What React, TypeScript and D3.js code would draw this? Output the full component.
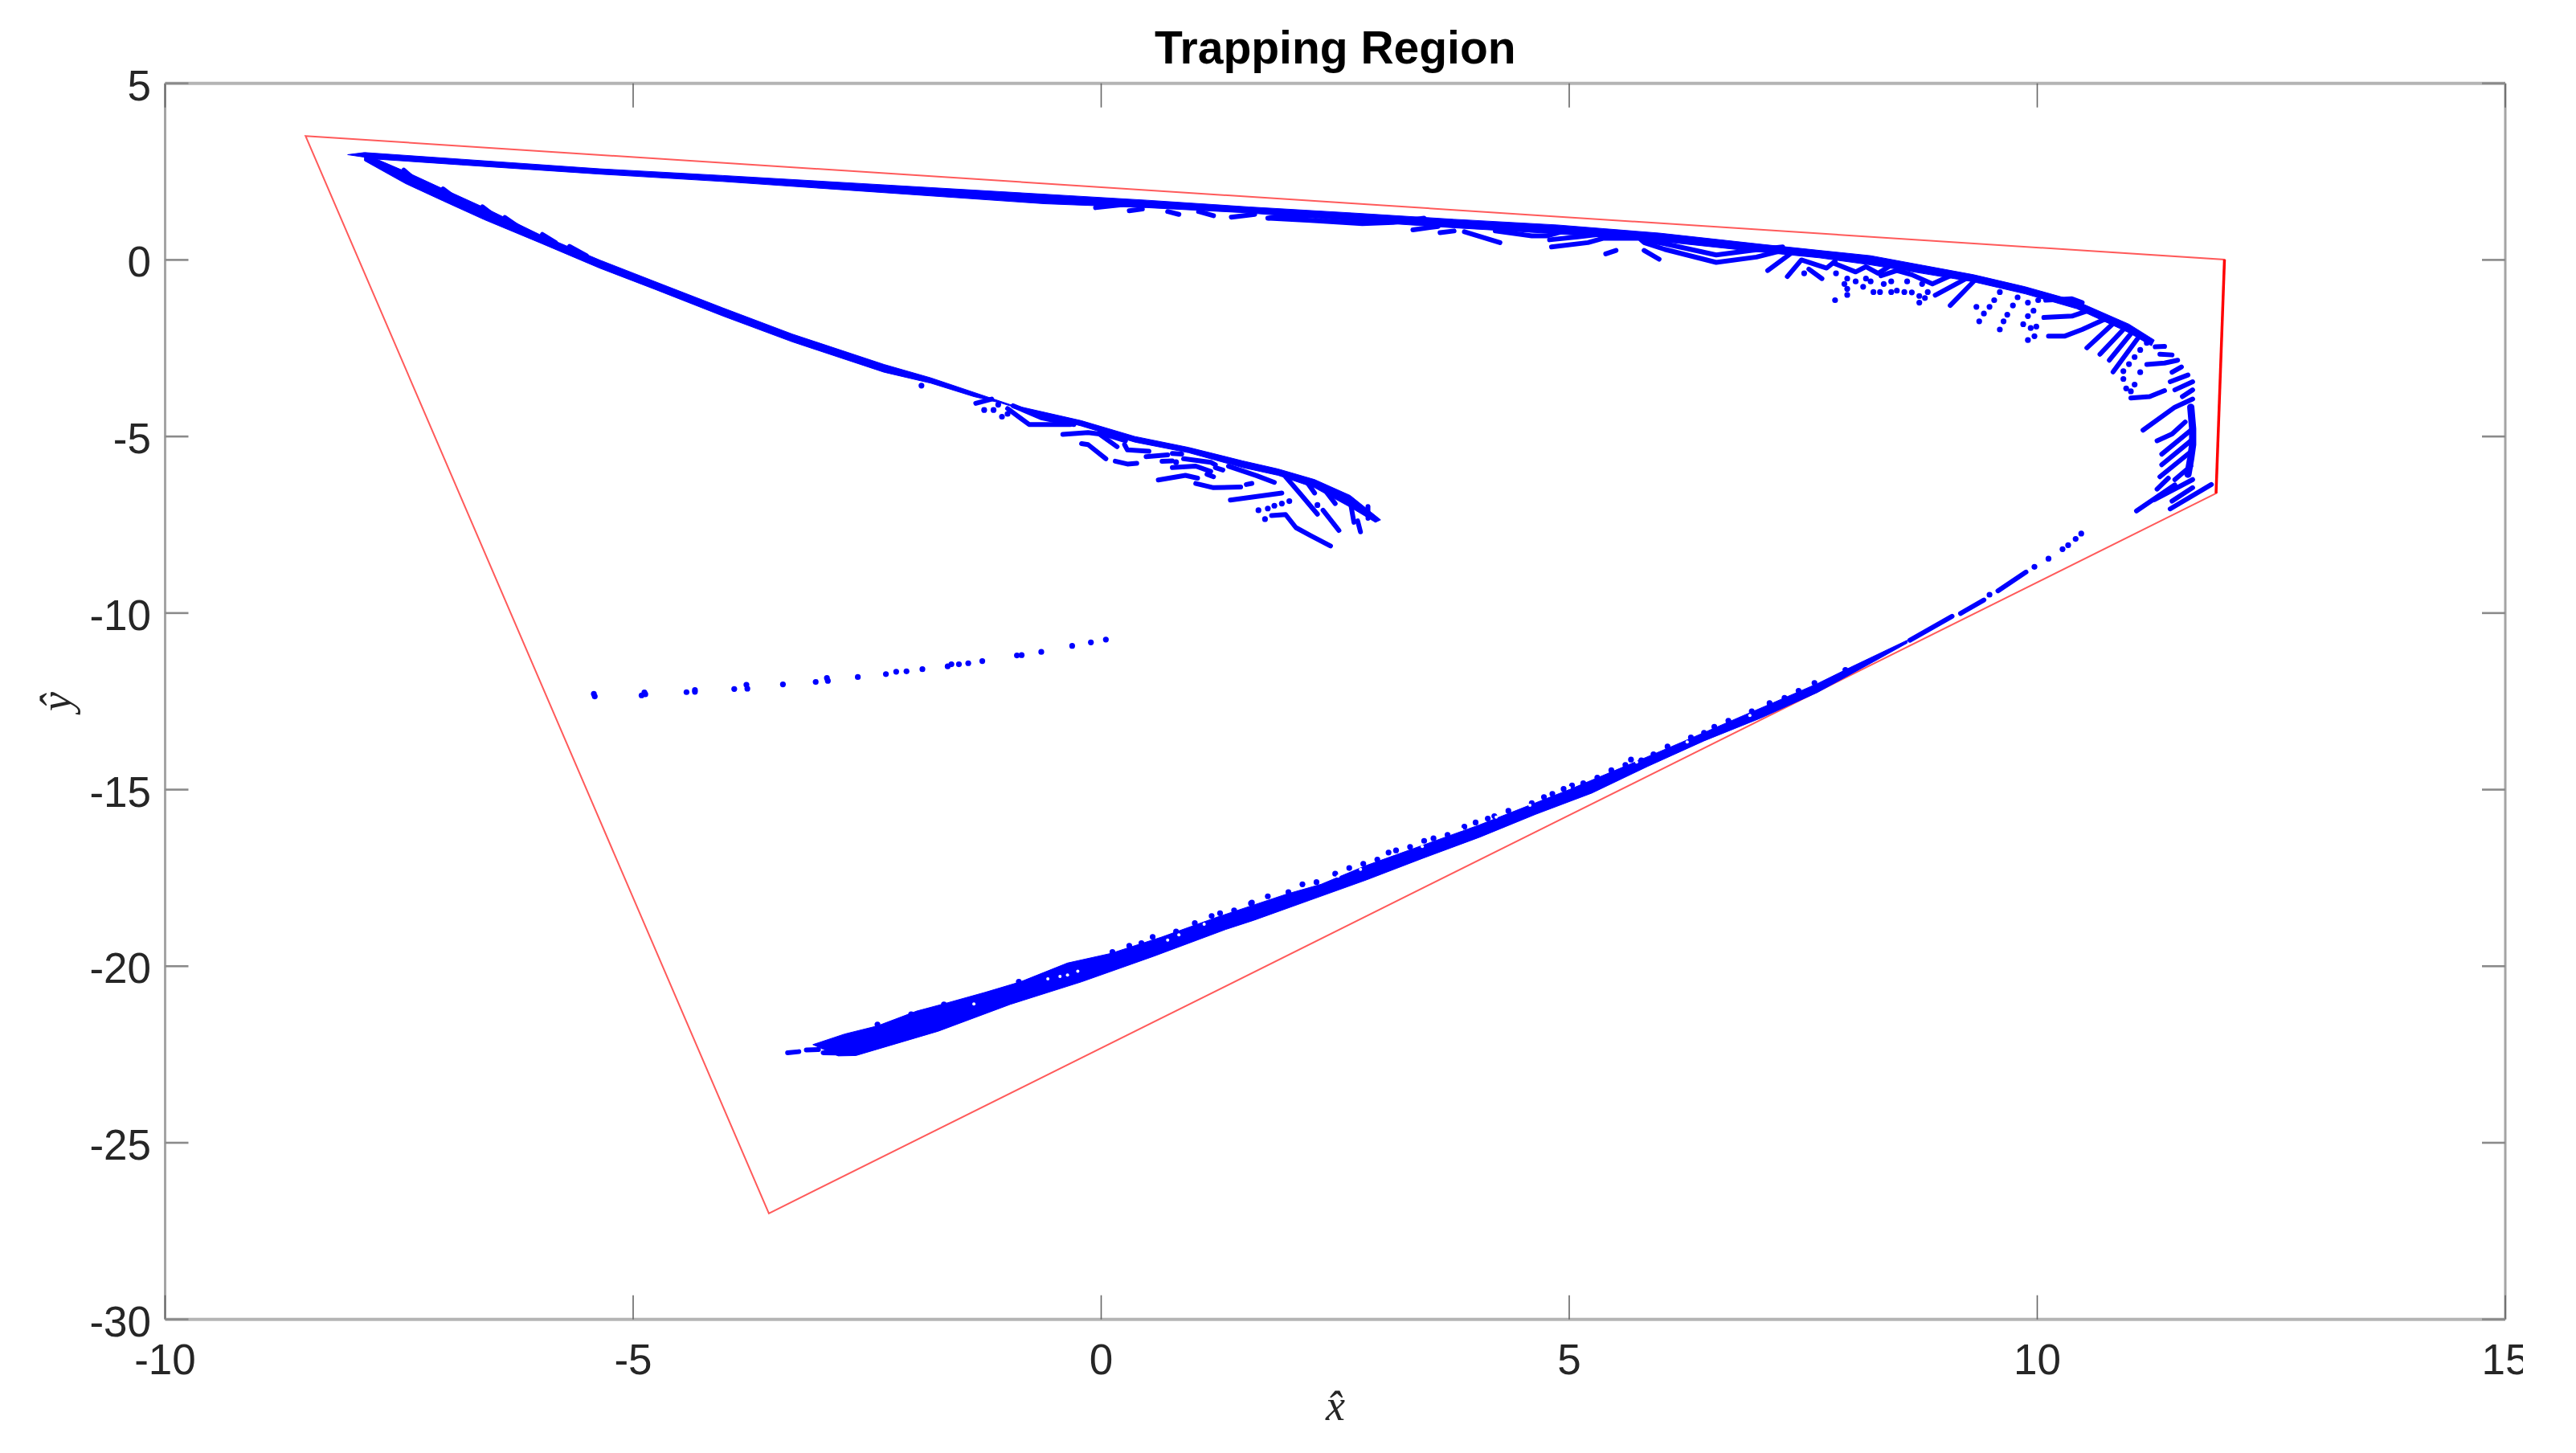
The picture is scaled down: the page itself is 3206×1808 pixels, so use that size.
import React from "react";
import * as d3 from "d3";

type P = [number, number];

const titleText = "Trapping Region";
const xTicks = [-10, -5, 0, 5, 10, 15];
const yTicks = [5, 0, -5, -10, -15, -20, -25, -30];

const trappingRegion: P[] = [[-8.5, 3.51], [12.0, 0.01], [11.91, -6.61], [-3.55, -27.0]];
const brightEdge: P[] = [[12.0, 0.01], [11.91, -6.61]];

// dense bundles, outlined by their upper and lower edges
const topBandUpper: P[] = [[-8.05, 2.98], [-7.87, 3.04], [-6.83, 2.85], [-5.36, 2.58], [-4.04, 2.39], [-0.605, 1.86], [0.49, 1.69], [1.58, 1.5], [2.68, 1.33], [3.77, 1.15], [4.87, 0.99], [5.96, 0.76], [7.06, 0.44], [7.67, 0.27], [8.22, 0.12], [8.77, -0.15], [9.32, -0.42], [9.87, -0.76], [10.42, -1.17], [10.98, -1.82], [11.25, -2.27]];
const topBandLower: P[] = [[-7.72, 2.85], [-6.83, 2.69], [-5.36, 2.43], [-4.04, 2.22], [-0.605, 1.59], [0.49, 1.48], [1.58, 1.33], [2.68, 1.1], [3.77, 0.91], [4.87, 0.74], [5.96, 0.53], [7.06, 0.22], [7.67, 0.06], [8.22, -0.14], [8.77, -0.38], [9.32, -0.62], [9.87, -0.96], [10.42, -1.38], [10.98, -2.06], [11.22, -2.43]];

const midBandUpper: P[] = [[-7.87, 3.0], [-7.43, 2.5], [-7.03, 2.01], [-6.59, 1.48], [-6.0, 0.72], [-5.36, 0.0], [-4.77, -0.61], [-4.04, -1.36], [-3.3, -2.1], [-2.32, -2.96], [-1.82, -3.34], [-0.98, -4.09], [-0.215, -4.55], [0.36, -5.0], [0.935, -5.31], [1.51, -5.69], [1.89, -5.92], [2.28, -6.22], [2.66, -6.67], [2.985, -7.36]];
const midBandLower: P[] = [[-7.87, 2.81], [-7.43, 2.16], [-7.03, 1.67], [-6.59, 1.14], [-6.0, 0.49], [-5.36, -0.23], [-4.77, -0.83], [-4.04, -1.59], [-3.3, -2.32], [-2.32, -3.18], [-1.82, -3.49], [-1.36, -3.87], [-1.06, -4.06], [-0.6, -4.44], [-0.215, -4.7], [0.36, -5.16], [0.935, -5.46], [1.51, -5.88], [1.89, -6.1], [2.28, -6.45], [2.66, -7.0], [2.93, -7.43]];

const lowBandUpper: P[] = [[-3.08, -22.22], [-2.74, -21.92], [-2.39, -21.69], [-1.97, -21.27], [-1.66, -21.05], [-1.24, -20.74], [-0.86, -20.44], [-0.36, -19.91], [0.1, -19.64], [0.64, -19.18], [1.25, -18.6], [1.99, -17.95], [2.35, -17.68], [2.83, -17.15], [3.43, -16.58], [4.04, -16.0], [4.52, -15.5], [5.0, -15.0], [5.72, -14.2], [6.2, -13.66], [6.81, -12.96], [7.17, -12.55], [7.65, -12.0], [8.01, -11.53], [8.61, -10.77]];
const lowBandLower: P[] = [[-2.81, -22.54], [-2.62, -22.53], [-1.74, -21.84], [-0.97, -21.08], [-0.207, -20.44], [0.56, -19.72], [1.33, -18.96], [1.63, -18.7], [2.23, -18.13], [2.83, -17.56], [3.43, -16.95], [4.04, -16.35], [4.64, -15.7], [5.24, -15.1], [5.84, -14.34], [6.44, -13.62], [7.05, -12.97], [7.65, -12.25], [8.25, -11.38], [8.61, -10.85]];

// separate runs of closely spaced samples
const arcRuns: P[][] = [
  [[11.26, -2.46], [11.36, -2.45]], [[11.31, -2.67], [11.44, -2.69]],
  [[11.17, -2.96], [11.36, -2.92], [11.5, -2.84]], [[11.44, -3.18], [11.54, -3.03]],
  [[11.42, -3.45], [11.61, -3.26]], [[11.47, -3.68], [11.66, -3.45]], [[11.55, -3.87], [11.66, -3.68]],
  [[11.0, -3.91], [11.2, -3.87], [11.36, -3.7]],
  [[11.13, -4.82], [11.47, -4.17], [11.66, -3.94]], [[11.28, -5.12], [11.44, -4.93], [11.58, -4.59]],
  [[11.33, -5.5], [11.66, -4.78]], [[11.33, -5.8], [11.66, -5.08]], [[11.31, -6.14], [11.66, -5.39]],
  [[11.28, -6.49], [11.4, -6.18]], [[11.06, -7.11], [11.47, -6.37]], [[11.25, -6.79], [11.66, -6.22]],
  [[11.42, -7.05], [11.86, -6.36]], [[11.44, -6.83], [11.66, -6.45]], [[11.47, -6.22], [11.64, -5.84]],
  [[10.53, -2.49], [10.8, -1.83]], [[10.67, -2.67], [10.92, -1.97]], [[10.77, -2.84], [11.0, -2.09]],
  [[10.81, -3.17], [11.08, -2.2]], [[10.12, -2.16], [10.29, -2.16], [10.48, -1.97], [10.73, -1.67]],
  [[10.07, -1.63], [10.37, -1.59], [10.56, -1.42]], [[10.09, -1.14], [10.37, -1.1], [10.48, -1.21]],
  [[9.07, -1.29], [9.32, -0.61]], [[8.91, -1.0], [9.24, -0.53]],
  [[7.12, -0.3], [7.37, 0.19]], [[7.33, -0.47], [7.48, 0.0], [7.75, -0.23], [7.84, -0.04]],
  [[7.56, -0.26], [7.7, -0.53]], [[7.84, -0.11], [8.06, -0.34], [8.17, -0.19], [8.3, -0.38], [8.44, -0.15]],
  [[8.33, -0.45], [8.5, -0.3], [8.66, -0.42], [8.88, -0.68], [9.07, -0.45]],
  [[-0.06, 1.48], [0.22, 1.56]], [[0.3, 1.39], [0.44, 1.44]], [[0.71, 1.37], [0.83, 1.29]], [[1.04, 1.37], [1.2, 1.25]],
  [[1.39, 1.21], [1.64, 1.29]], [[1.78, 1.18], [1.97, 1.25], [2.24, 1.25]],
  [[1.8, 1.18], [2.24, 1.12], [2.79, 1.03], [3.12, 1.06], [3.45, 1.18]],
  [[3.33, 0.85], [3.6, 0.95]], [[3.62, 0.77], [3.77, 0.82]], [[3.88, 0.8], [4.26, 0.49]],
  [[4.21, 0.82], [4.6, 0.68], [4.76, 0.68], [4.92, 0.8]], [[4.79, 0.57], [5.09, 0.65], [5.31, 0.72]],
  [[4.81, 0.37], [5.2, 0.49], [5.36, 0.61], [5.75, 0.61], [5.8, 0.49], [6.02, 0.3], [6.57, -0.07], [7.0, 0.08], [7.28, 0.27]],
  [[5.8, 0.57], [6.02, 0.46], [6.57, 0.14], [6.95, 0.27], [7.28, 0.37]],
  [[5.39, 0.17], [5.5, 0.27]], [[5.8, 0.27], [5.96, 0.02]],
];
const arcBlob: P[] = [[11.64, -4.17], [11.66, -4.78], [11.66, -5.23], [11.64, -5.61], [11.61, -6.07]];
const arcDots: P[] = [[10.92, -3.37], [10.95, -3.64], [11.0, -3.72], [11.04, -3.53], [11.1, -3.18], [9.38, -1.74], [9.43, -1.52], [9.49, -1.33], [9.54, -1.14], [9.6, -0.91], [9.65, -0.72], [9.6, -1.97], [9.64, -1.74], [9.68, -1.55], [9.74, -1.29], [9.79, -1.06], [9.85, -1.82], [9.9, -1.59], [9.96, -1.44], [10.01, -1.14], [9.9, -1.21], [9.9, -2.27], [9.97, -2.16], [9.93, -1.93], [9.99, -1.89], [9.35, -1.33], [10.92, -3.15], [10.98, -2.95], [11.04, -2.75], [11.1, -2.55], [11.17, -2.35], [7.51, -0.38], [7.84, -1.14], [7.97, -0.99], [7.97, -0.82], [7.94, -0.68], [7.97, -0.53], [7.85, -0.38], [8.06, -0.61], [8.14, -0.76], [8.17, -0.53], [8.25, -0.91], [8.32, -0.91], [8.36, -0.68], [8.44, -0.91], [8.5, -0.87], [8.58, -0.91], [8.66, -0.92], [8.74, -1.21], [8.74, -1.02], [8.8, -1.08], [8.83, -0.91], [8.44, -0.61], [8.61, -0.61], [8.77, -0.68], [8.22, -0.61]];

const midRuns: P[][] = [
  [[-7.45, 2.54], [-7.3, 2.2]], [[-7.03, 2.01], [-6.86, 1.67]], [[-6.61, 1.5], [-6.47, 1.22]], [[-6.37, 1.2], [-6.19, 0.87]], [[-5.97, 0.72], [-5.83, 0.49]], [[-5.68, 0.38], [-5.5, 0.12]],
  [[-1.34, -4.06], [-1.17, -3.94]], [[-1.0, -4.21], [-0.77, -4.66], [-0.33, -4.66]], [[-0.94, -4.13], [-0.64, -4.47], [-0.29, -4.66]],
  [[-0.41, -4.94], [-0.14, -4.89], [-0.02, -4.93], [0.17, -5.29]], [[-0.21, -5.2], [-0.14, -5.23], [0.05, -5.63]],
  [[0.15, -5.7], [0.28, -5.78], [0.38, -5.76]], [[-0.02, -4.89], [0.26, -5.12]], [[0.25, -5.23], [0.28, -5.38], [0.51, -5.42]],
  [[0.48, -5.57], [0.71, -5.52]], [[0.76, -5.48], [0.86, -5.5]], [[0.65, -5.7], [0.76, -5.69]],
  [[0.88, -5.63], [1.17, -5.73], [1.22, -5.8]], [[0.76, -5.88], [1.01, -5.84], [1.17, -5.99]],
  [[1.13, -6.07], [1.2, -6.14]], [[1.22, -5.88], [1.3, -5.95]], [[0.61, -6.23], [0.9, -6.1], [1.03, -6.18]],
  [[1.01, -6.33], [1.2, -6.45], [1.49, -6.43]], [[1.55, -6.36], [1.61, -6.33]], [[1.38, -6.8], [1.93, -6.6]],
  [[1.82, -7.24], [1.97, -7.21], [2.08, -7.58], [2.24, -7.81], [2.45, -8.1]], [[1.97, -6.14], [2.12, -6.6], [2.31, -7.2]],
  [[2.37, -7.09], [2.54, -7.66]], [[2.66, -6.83], [2.7, -7.43]], [[2.74, -7.39], [2.77, -7.7]],
  [[2.2, -6.3], [2.28, -6.6]], [[2.39, -6.52], [2.5, -6.9]], [[2.85, -6.98], [2.85, -7.32]], [[1.36, -5.84], [1.66, -6.11], [1.85, -6.3]],
];
const midDots: P[] = [[-1.25, -4.25], [-1.15, -4.25], [-1.06, -4.44], [-1.0, -4.36], [-1.1, -4.1], [-1.92, -3.56], [0.8, -5.73], [1.68, -7.09], [1.78, -7.04], [1.85, -6.96], [1.93, -6.9], [2.01, -6.83], [1.75, -7.34], [2.31, -6.94]];

const lowRuns: P[][] = [
  [[-3.35, -22.45], [-3.23, -22.42]], [[-3.15, -22.37], [-3.02, -22.36]], [[-2.97, -22.45], [-2.83, -22.46]],
  [[8.64, -10.77], [9.09, -10.09]], [[9.18, -10.01], [9.43, -9.63]], [[9.58, -9.37], [9.88, -8.84]],
];
const lowDots: P[] = [[9.49, -9.48], [9.97, -8.69], [10.12, -8.46], [10.27, -8.19], [10.33, -8.08], [10.41, -7.9], [10.47, -7.75], [4.94, -14.98], [5.03, -14.88], [3.07, -16.78], [3.45, -16.45], [4.0, -15.93], [4.13, -15.82], [4.73, -15.21], [5.66, -14.15], [5.77, -14.17], [6.44, -13.39], [7.14, -12.55], [7.62, -11.98], [7.95, -11.61], [-2.03, -21.36], [-2.39, -21.65], [-1.68, -21.08], [-0.88, -20.44], [0.12, -19.6], [0.43, -19.35], [1.27, -18.5], [1.61, -18.2]];
// loose samples along the upper side of the lower bundle
const lowFringe: P[] = [[0.3, -19.42], [0.55, -19.17], [0.8, -19.02], [1.0, -18.78], [1.18, -18.58], [1.42, -18.42], [1.6, -18.22], [1.78, -18.02], [2.0, -17.9], [2.15, -17.68], [2.3, -17.62], [2.5, -17.38], [2.65, -17.22], [2.8, -17.1], [2.95, -16.98], [3.15, -16.72], [3.3, -16.62], [3.55, -16.38], [3.7, -16.28], [3.88, -16.05], [4.2, -15.75], [4.35, -15.6], [4.6, -15.38], [4.82, -15.12], [5.15, -14.82], [5.3, -14.66], [5.45, -14.45], [5.6, -14.3], [5.9, -14.0], [6.05, -13.78], [6.3, -13.52], [6.55, -13.22], [6.7, -13.05], [6.95, -12.78], [7.3, -12.4], [7.45, -12.2]];
// small gaps inside the lower bundle
const lowGaps: P[] = [[-1.36, -21.07], [-0.44, -20.29], [-0.36, -20.25], [-0.25, -20.14], [-0.57, -20.36], [1.1, -18.81], [0.83, -19.11], [0.71, -19.26], [2.53, -17.45], [2.77, -17.26], [3.43, -16.61], [3.85, -16.12], [4.22, -15.78], [4.58, -15.44], [5.0, -14.94], [5.72, -14.22], [6.26, -13.65], [6.93, -12.9]];

const isolatedDots: P[] = [[-5.42, -12.29], [-5.41, -12.36], [-4.91, -12.33], [-4.88, -12.25], [-4.87, -12.3], [-4.43, -12.24], [-4.34, -12.18], [-4.34, -12.23], [-3.92, -12.15], [-3.79, -12.03], [-3.78, -12.14], [-3.4, -12.02], [-3.05, -11.95], [-2.93, -11.84], [-2.92, -11.92], [-2.6, -11.81], [-2.3, -11.73], [-2.19, -11.66], [-2.08, -11.65], [-1.91, -11.59], [-1.64, -11.51], [-1.6, -11.45], [-1.52, -11.45], [-1.42, -11.42], [-1.27, -11.36], [-0.9, -11.2], [-0.85, -11.19], [-0.64, -11.1], [-0.31, -10.93], [-0.11, -10.83], [0.05, -10.75]];

const W = 3206;
const H = 1808;
const LEFT = 205.5;
const RIGHT = 3118;
const TOP = 103.7;
const BOTTOM = 1641.7;
const BLUE = "#0000ff";
const SANS = "'Liberation Sans', Arial, sans-serif";
const SERIF = "'Liberation Serif', 'Times New Roman', serif";

const x = d3.scaleLinear().domain([-10, 15]).range([LEFT, RIGHT]);
const y = d3.scaleLinear().domain([-30, 5]).range([BOTTOM, TOP]);
const line = d3.line<P>().x((d) => x(d[0])).y((d) => y(d[1]));
const closed = d3.line<P>().x((d) => x(d[0])).y((d) => y(d[1])).curve(d3.curveLinearClosed);

function Band({ upper, lower }: { upper: P[]; lower: P[] }) {
  return <path d={closed([...upper, ...[...lower].reverse()]) ?? ""} fill={BLUE} stroke={BLUE} strokeWidth={1} strokeLinejoin="round" />;
}

export default function App() {
  const runs = [...arcRuns, ...midRuns, ...lowRuns];
  const dots = [...arcDots, ...midDots, ...lowDots, ...lowFringe, ...isolatedDots];
  return (
    <svg width={W} height={H} viewBox={`0 0 ${W} ${H}`} style={{ position: "absolute", left: 0, top: 0, background: "#fff" }}>
      <rect width={W} height={H} fill="#fff" />
      <path d={closed(trappingRegion) ?? ""} fill="none" stroke="#ff5a5a" strokeWidth={2} strokeLinejoin="miter" />
      <path d={line(brightEdge) ?? ""} fill="none" stroke="#ff0000" strokeWidth={3.5} />
      <Band upper={topBandUpper} lower={topBandLower} />
      <Band upper={midBandUpper} lower={midBandLower} />
      <Band upper={lowBandUpper} lower={lowBandLower} />
      <path d={line(arcBlob) ?? ""} fill="none" stroke={BLUE} strokeWidth={9} strokeLinecap="round" />
      {runs.map((r, i) => (
        <path key={i} d={line(r) ?? ""} fill="none" stroke={BLUE} strokeWidth={6} strokeLinecap="round" strokeLinejoin="round" />
      ))}
      {dots.map((d, i) => (
        <circle key={i} cx={x(d[0])} cy={y(d[1])} r={3.6} fill={BLUE} />
      ))}
      {lowGaps.map((d, i) => (
        <circle key={i} cx={x(d[0])} cy={y(d[1])} r={2} fill="#fff" />
      ))}

      <g fill="none" stroke="#b4b4b4" strokeWidth={4}>
        <line x1={LEFT} x2={RIGHT} y1={TOP} y2={TOP} />
        <line x1={LEFT} x2={RIGHT} y1={BOTTOM} y2={BOTTOM} />
      </g>
      <g fill="none" stroke="#a4a4a4" strokeWidth={3}>
        <line x1={LEFT} x2={LEFT} y1={TOP} y2={BOTTOM} />
        <line x1={RIGHT} x2={RIGHT} y1={TOP} y2={BOTTOM} />
      </g>
      {xTicks.map((t) => (
        <g key={t} stroke="#666" strokeWidth={1.6}>
          <line x1={x(t)} x2={x(t)} y1={TOP} y2={TOP + 30} />
          <line x1={x(t)} x2={x(t)} y1={BOTTOM} y2={BOTTOM - 30} />
        </g>
      ))}
      {yTicks.map((t) => (
        <g key={t} stroke="#8a8a8a" strokeWidth={2.6}>
          <line x1={LEFT} x2={LEFT + 29} y1={y(t)} y2={y(t)} />
          <line x1={RIGHT} x2={RIGHT - 29} y1={y(t)} y2={y(t)} />
        </g>
      ))}
      <g fontFamily={SANS} fontSize={53} fill="#262626">
        {xTicks.map((t) => (
          <text key={t} x={x(t)} y={1710} textAnchor="middle">{t}</text>
        ))}
        {yTicks.map((t) => (
          <text key={t} x={188} y={y(t) + 21} textAnchor="end">{t}</text>
        ))}
      </g>
      <text x={(LEFT + RIGHT) / 2} y={79.3} textAnchor="middle" fontFamily={SANS} fontWeight="bold" fontSize={57} fill="#000">{titleText}</text>
      <text x={1662} y={1767} textAnchor="middle" fontFamily={SERIF} fontStyle="italic" fontSize={54} fill="#262626">x̂</text>
      <text transform="translate(88,873) rotate(-90)" textAnchor="middle" fontFamily={SERIF} fontStyle="italic" fontSize={54} fill="#262626">ŷ</text>
      <rect x={3140} y={0} width={W - 3140} height={H} fill="#fff" />
    </svg>
  );
}
